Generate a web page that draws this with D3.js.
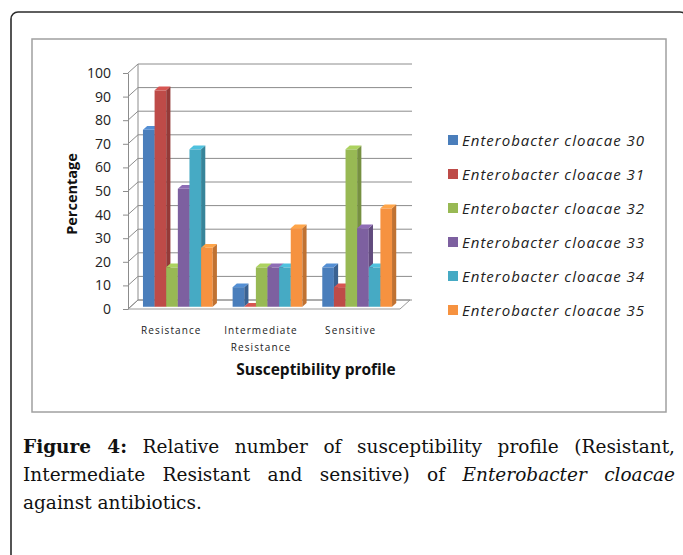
<!DOCTYPE html>
<html>
<head>
<meta charset="utf-8">
<script src="https://cdn.jsdelivr.net/npm/d3@7"></script>
<style>
  body { margin: 0; background: #fff; }
  #wrap { position: relative; width: 683px; height: 555px; overflow: hidden; }
  svg { position: absolute; left: 0; top: 0; }
  .cap { position: absolute; left: 23px; width: 652px; font-family: "DejaVu Serif", serif; font-size: 18.5px; color: #111; white-space: nowrap; line-height: 28px; }
  .just { text-align: justify; text-align-last: justify; white-space: normal; }
</style>
</head>
<body>
<div id="wrap"></div>
<script>
var categories = ["Resistance", "Intermediate Resistance", "Sensitive"];
var catLines = [["Resistance"], ["Intermediate", "Resistance"], ["Sensitive"]];
var series = ["Enterobacter cloacae 30", "Enterobacter cloacae 31", "Enterobacter cloacae 32",
              "Enterobacter cloacae 33", "Enterobacter cloacae 34", "Enterobacter cloacae 35"];
// percentage per series, in category order
var values = [
  [75, 8.3, 16.7],
  [91.7, 0, 8.3],
  [16.7, 16.7, 66.7],
  [50, 16.7, 33.3],
  [66.7, 16.7, 16.7],
  [25, 33.3, 41.7]
];
var colors = ["#4a7ebb", "#be4b48", "#98b954", "#7d60a0", "#46aac4", "#f69240"];
var yTicks = d3.range(0, 101, 10);

var width = 683, height = 555;
var wrap = d3.select("#wrap");
var svg = wrap.append("svg").attr("width", width).attr("height", height);

// outer panel and chart frame
svg.append("rect").attr("x", 11).attr("y", 12).attr("width", 676).attr("height", 600)
  .attr("rx", 7).attr("fill", "none").attr("stroke", "#2b2b2b").attr("stroke-width", 1.6);
svg.append("rect").attr("x", 32).attr("y", 39).attr("width", 634).attr("height", 373)
  .attr("fill", "#fff").attr("stroke", "#a0a0a0").attr("stroke-width", 1.5);

var x0 = 128, xRight = 402;
var DX = 10, DY = -9; // depth offset of the 3d box

var y = d3.scaleLinear().domain([0, 100]).range([309, 73]);
var x = d3.scaleBand().domain(categories).range([x0, xRight]).paddingInner(0.222).paddingOuter(0.139);
var xs = d3.scaleBand().domain(d3.range(series.length)).range([0, x.bandwidth()]);

// floor
svg.append("polygon")
  .attr("points", [[x0, y(0)], [400, y(0)], [400 + DX, y(0) + DY], [x0 + DX, y(0) + DY]].join(" "))
  .attr("fill", "#fff").attr("stroke", "#9a9a9a").attr("stroke-width", 1);

// gridlines on the left wall and back wall
var grid = svg.append("g").attr("stroke", "#8c8c8c").attr("stroke-width", 1).attr("fill", "none");
yTicks.forEach(function (t) {
  var yy = y(t);
  grid.append("path")
    .attr("d", "M" + x0 + "," + yy + "L" + (x0 + DX) + "," + (yy + DY) + "L" + (xRight + DX) + "," + (yy + DY));
});
grid.append("line").attr("x1", x0 + DX).attr("x2", x0 + DX).attr("y1", y(0) + DY).attr("y2", y(100) + DY);

// y axis
var yAxis = svg.append("g").attr("transform", "translate(" + x0 + ",0)")
  .call(d3.axisLeft(y).tickValues(yTicks).tickSize(5).tickSizeOuter(0).tickPadding(12));
yAxis.select(".domain").attr("stroke", "#8c8c8c");
yAxis.selectAll(".tick line").attr("stroke", "#8c8c8c");
yAxis.selectAll("text").attr("font-family", "Open Sans, sans-serif").attr("font-size", 14).attr("fill", "#222");

// bars
var t0 = 0.25, dep = 0.42;
var bars = svg.append("g");
categories.forEach(function (cat, ci) {
  series.forEach(function (s, si) {
    var v = values[si][ci];
    var c = d3.color(colors[si]);
    var bx = x(cat) + xs(si) + DX * t0;
    var bw = xs.bandwidth();
    var top = y(v) + DY * t0;
    var bot = y(0) + DY * t0;
    var ox = DX * dep, oy = DY * dep;
    bars.append("rect").attr("x", bx).attr("y", top).attr("width", bw).attr("height", bot - top)
      .attr("fill", c.formatHex());
    bars.append("polygon")
      .attr("points", [[bx + bw, top], [bx + bw + ox, top + oy], [bx + bw + ox, bot + oy], [bx + bw, bot]].join(" "))
      .attr("fill", c.darker(0.7).formatHex());
    bars.append("polygon")
      .attr("points", [[bx, top], [bx + bw, top], [bx + bw + ox, top + oy], [bx + ox, top + oy]].join(" "))
      .attr("fill", c.brighter(0.35).formatHex());
  });
});

// category labels
var catG = svg.append("g").attr("font-family", "Open Sans, sans-serif").attr("font-size", 10)
  .attr("letter-spacing", 1.1).attr("fill", "#222").attr("text-anchor", "middle");
categories.forEach(function (cat, ci) {
  catLines[ci].forEach(function (ln, li) {
    catG.append("text").attr("x", x(cat) + x.bandwidth() / 2 - 4).attr("y", 334 + li * 17).text(ln);
  });
});

svg.append("text").attr("x", 316).attr("y", 375).attr("text-anchor", "middle")
  .attr("font-family", "Open Sans, sans-serif").attr("font-weight", "bold").attr("font-size", 15.5)
  .attr("fill", "#111").text("Susceptibility profile");

svg.append("text").attr("transform", "translate(77,194) rotate(-90)").attr("text-anchor", "middle")
  .attr("font-family", "Open Sans, sans-serif").attr("font-weight", "bold").attr("font-size", 14.5)
  .attr("fill", "#111").text("Percentage");

// legend
var leg = svg.append("g").selectAll("g").data(series).enter().append("g")
  .attr("transform", function (d, i) { return "translate(448," + (140 + i * 34) + ")"; });
leg.append("rect").attr("x", 0).attr("y", -5).attr("width", 10).attr("height", 10)
  .attr("fill", function (d, i) { return colors[i]; });
leg.append("text").attr("x", 14).attr("y", 5.5).attr("font-family", "Open Sans, sans-serif")
  .attr("font-style", "italic").attr("font-size", 15).attr("letter-spacing", 1).attr("fill", "#222")
  .text(function (d) { return d; });

// caption
wrap.append("div").attr("class", "cap just").style("top", "433px")
  .html("<b>Figure 4:</b> Relative number of susceptibility profile (Resistant,");
wrap.append("div").attr("class", "cap just").style("top", "461px")
  .html("Intermediate Resistant and sensitive) of <i>Enterobacter cloacae</i>");
wrap.append("div").attr("class", "cap").style("top", "489px")
  .text("against antibiotics.");
</script>
</body>
</html>
